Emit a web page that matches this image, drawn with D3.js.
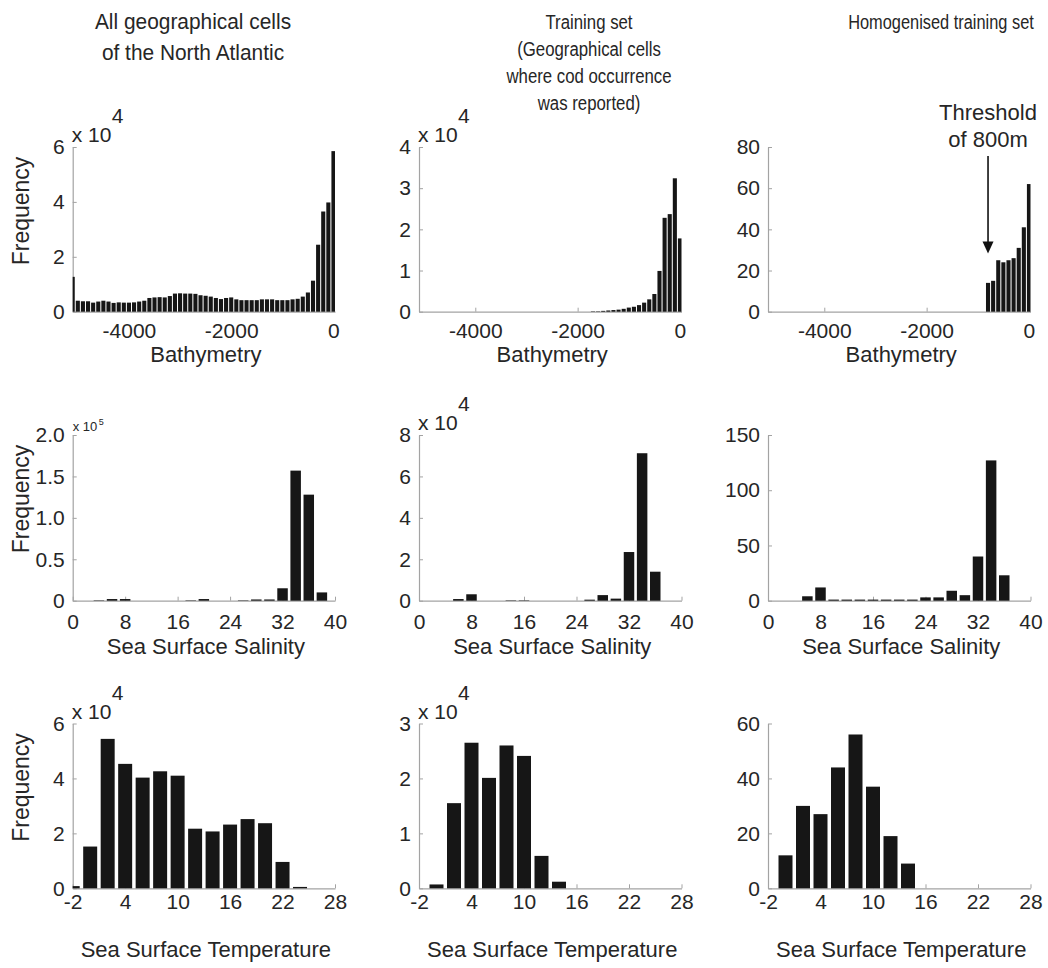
<!DOCTYPE html>
<html>
<head>
<meta charset="utf-8">
<script src="https://cdn.jsdelivr.net/npm/d3@7"></script>
<style>
  html, body { margin: 0; background: #fff; }
  svg { display: block; font-family: "Liberation Sans", Arial, Helvetica, sans-serif; }
</style>
</head>
<body>
<svg id="fig" width="1048" height="968"></svg>
<script>
// ---- bin centres -------------------------------------------------------
const depthBins = [-5100, -5000, -4900, -4800, -4700, -4600, -4500, -4400, -4300, -4200,
  -4100, -4000, -3900, -3800, -3700, -3600, -3500, -3400, -3300, -3200,
  -3100, -3000, -2900, -2800, -2700, -2600, -2500, -2400, -2300, -2200,
  -2100, -2000, -1900, -1800, -1700, -1600, -1500, -1400, -1300, -1200,
  -1100, -1000, -900, -800, -700, -600, -500, -400, -300, -200, -100, 0];
const salinityBins = [0, 2, 4, 6, 8, 10, 12, 14, 16, 18, 20, 22, 24, 26, 28, 30, 32, 34, 36, 38, 40];
const temperatureBins = [-2, 0, 2, 4, 6, 8, 10, 12, 14, 16, 18, 20, 22, 24, 26, 28];

// ---- frequencies: all cells of the North Atlantic ----------------------
const depthAll = [12700, 4000, 3800, 3800, 3300, 3700, 4000, 3700, 3200, 3400,
  3300, 3300, 3400, 3700, 4000, 5000, 5200, 5300, 5200, 5700,
  6600, 6700, 6600, 6600, 6500, 6000, 5800, 5500, 5000, 4600,
  5000, 5200, 4500, 4200, 4200, 4200, 4200, 4500, 4500, 4500,
  4200, 4200, 4200, 4500, 4700, 5500, 7000, 11300, 24400, 36500, 39800, 58500];
const salinityAll = [0, 0, 500, 2000, 2000, 0, 0, 0, 0, 500, 2000, 0, 0, 500, 1500, 1500,
  15000, 157000, 128000, 10000, 0];
const temperatureAll = [800, 15200, 54400, 45300, 40300, 42600, 41000, 21700, 20700, 23200,
  25200, 23700, 9600, 500, 0, 0];

// ---- frequencies: training set (cod occurrence reported) ---------------
const depthTrain = [0, 0, 0, 0, 0, 0, 0, 0, 0, 0,
  0, 0, 0, 0, 0, 0, 0, 0, 0, 0,
  0, 0, 0, 0, 0, 0, 0, 0, 0, 0,
  0, 0, 0, 0, 100, 100, 200, 300, 400, 500,
  700, 1000, 1200, 1600, 2200, 3000, 4300, 9900, 22800, 23700, 32400, 17800];
const salinityTrain = [0, 0, 0, 800, 3100, 0, 0, 200, 200, 0, 0, 0, 0, 500, 2700, 1000,
  23500, 71200, 14000, 0, 0];
const temperatureTrain = [0, 700, 15500, 26500, 20100, 26000, 24100, 5900, 1200, 0,
  0, 0, 0, 0, 0, 0];

// ---- frequencies: homogenised training set -----------------------------
const depthHomog = [0, 0, 0, 0, 0, 0, 0, 0, 0, 0,
  0, 0, 0, 0, 0, 0, 0, 0, 0, 0,
  0, 0, 0, 0, 0, 0, 0, 0, 0, 0,
  0, 0, 0, 0, 0, 0, 0, 0, 0, 0,
  0, 0, 0, 14, 15, 25, 24, 25, 26, 31, 41, 62];
const salinityHomog = [0, 0, 0, 4, 12, 1, 1, 1, 1, 1, 1, 1, 3, 3, 9, 5, 40, 127, 23, 0, 0];
const temperatureHomog = [0, 12, 30, 27, 44, 56, 37, 19, 9, 0, 0, 0, 0, 0, 0, 0];

// ---- axis ticks ---------------------------------------------------------
const depthTicks = [-4000, -2000, 0];
const salinityTicks = [0, 8, 16, 24, 32, 40];
const temperatureTicks = [-2, 4, 10, 16, 22, 28];

// ---- text ---------------------------------------------------------------
const columnTitles = [
  ["All geographical cells", "of the North Atlantic"],
  ["Training set", "(Geographical cells", "where cod occurrence", "was reported)"],
  ["Homogenised training set"]
];
const rowLabels = ["Bathymetry", "Sea Surface Salinity", "Sea Surface Temperature"];

// ---- layout ---------------------------------------------------------------
const colX = [[72.7, 335], [419, 681.5], [768, 1030.5]];
const rowY = [[147, 311.7], [435, 600.7], [723.5, 888.3]];
const titleStyle = [
  { x: 193, size: 22, sx: 0.95, lead: 31 },
  { x: 589, size: 21, sx: 0.8, lead: 27 },
  { x: 941, size: 21, sx: 0.78, lead: 27 }
];

const rows = [
  { bins: depthBins, binW: 100, domain: [-5100, 30], ticks: depthTicks, labelPad: 11.5, titleBase: 362,
    series: [depthAll, depthTrain, depthHomog],
    yTop: [60000, 40000, 80], scale: [1e4, 1e4, 1],
    yTicks: [[0, 2, 4, 6], [0, 1, 2, 3, 4], [0, 20, 40, 60, 80]], fmt: [d3.format("d"), d3.format("d"), d3.format("d")] },
  { bins: salinityBins, binW: 2, domain: [0, 40], ticks: salinityTicks, labelPad: 13, titleBase: 654,
    series: [salinityAll, salinityTrain, salinityHomog],
    yTop: [200000, 80000, 150], scale: [1e5, 1e4, 1],
    yTicks: [[0, 0.5, 1, 1.5, 2], [0, 2, 4, 6, 8], [0, 50, 100, 150]],
    fmt: [v => v === 0 ? "0" : d3.format(".1f")(v), d3.format("d"), d3.format("d")] },
  { bins: temperatureBins, binW: 2, domain: [-2, 28], ticks: temperatureTicks, labelPad: 6, titleBase: 957,
    series: [temperatureAll, temperatureTrain, temperatureHomog],
    yTop: [60000, 30000, 60], scale: [1e4, 1e4, 1],
    yTicks: [[0, 2, 4, 6], [0, 1, 2, 3], [0, 20, 40, 60]], fmt: [d3.format("d"), d3.format("d"), d3.format("d")] }
];

const BAR = "#161616", AXIS = "#a3a3a3", TEXT = "#262626";
const svg = d3.select("#fig");
svg.append("rect").attr("width", 1048).attr("height", 968).attr("fill", "#fff");

// column headings
columnTitles.forEach((lines, c) => {
  const st = titleStyle[c];
  lines.forEach((t, i) => {
    svg.append("g").attr("transform", `translate(${st.x},${29 + i * st.lead})`)
      .append("text").attr("transform", `scale(${st.sx},1)`)
      .attr("text-anchor", "middle").attr("font-size", st.size).attr("fill", TEXT).text(t);
  });
});

rows.forEach((row, r) => {
  const [y0, y1] = [rowY[r][1], rowY[r][0]];
  row.series.forEach((vals, c) => {
    const [xa, xb] = colX[c];
    const x = d3.scaleLinear().domain(row.domain).range([xa, xb]);
    const yTopScaled = row.yTop[c] / row.scale[c];
    const y = d3.scaleLinear().domain([0, yTopScaled]).range([y0, y1]);
    const g = svg.append("g");

    const clipId = `clip-${r}-${c}`;
    svg.append("clipPath").attr("id", clipId).append("rect")
      .attr("x", xa).attr("y", y1 - 2).attr("width", xb - xa).attr("height", y0 - y1 + 4);

    // axes
    const xAxis = d3.axisBottom(x).tickValues(row.ticks).tickSizeInner(-4).tickSizeOuter(0)
      .tickPadding(row.labelPad).tickFormat(d3.format("d"));
    const gx = g.append("g").attr("transform", `translate(0,${y0})`).call(xAxis);
    const yAxis = d3.axisLeft(y).tickValues(row.yTicks[c]).tickSizeInner(-4).tickSizeOuter(0)
      .tickPadding(8).tickFormat(row.fmt[c]);
    const gy = g.append("g").attr("transform", `translate(${xa},0)`).call(yAxis);
    [gx, gy].forEach(a => {
      a.select(".domain").attr("stroke", AXIS).attr("stroke-width", 1.2);
      a.selectAll(".tick line").attr("stroke", AXIS);
      a.selectAll(".tick text").attr("font-size", 21).attr("fill", TEXT)
        .attr("font-family", "Liberation Sans, Arial, sans-serif");
    });
    gx.selectAll(".tick text").text(d => d < 0 ? "-" + Math.abs(d) : d);

    // bars (80% of bin width, clipped to the axes box)
    g.append("g").attr("clip-path", `url(#${clipId})`)
      .selectAll("rect").data(row.bins.map((b, i) => ({ b, v: vals[i] / row.scale[c] })))
      .join("rect")
      .attr("x", d => x(d.b - row.binW * 0.4))
      .attr("width", d => x(d.b + row.binW * 0.4) - x(d.b - row.binW * 0.4))
      .attr("y", d => y(d.v))
      .attr("height", d => y0 - y(d.v))
      .attr("fill", BAR);

    // axis title under each panel
    svg.append("text").attr("x", (xa + xb) / 2 + 2).attr("y", row.titleBase)
      .attr("text-anchor", "middle").attr("font-size", 22).attr("fill", TEXT).text(rowLabels[r]);

    // exponent multiplier above the y axis
    if (row.scale[c] !== 1) {
      const p = Math.round(Math.log10(row.scale[c]));
      if (r === 1 && c === 0) {
        svg.append("text").attr("x", xa).attr("y", y1 - 4.5).attr("font-size", 13).attr("fill", TEXT).text("x 10");
        svg.append("text").attr("x", xa + 26).attr("y", y1 - 10).attr("font-size", 9).attr("fill", TEXT).text(p);
      } else {
        svg.append("text").attr("x", xa - 1).attr("y", y1 - 5).attr("font-size", 21).attr("fill", TEXT).text("x 10");
        svg.append("text").attr("x", xa + 39).attr("y", y1 - 24).attr("font-size", 21).attr("fill", TEXT).text(p);
      }
    }

    // y-axis label on the first column
    if (c === 0) {
      svg.append("text").attr("transform", `translate(29,${y1 + 64}) rotate(-90)`)
        .attr("text-anchor", "middle").attr("font-size", 23).attr("fill", TEXT).text("Frequency");
    }

    // depth threshold annotation in the homogenised set
    if (r === 0 && c === 2) {
      const ax = x(-800);
      svg.append("text").attr("x", ax).attr("y", 120).attr("text-anchor", "middle")
        .attr("font-size", 22).attr("fill", TEXT).text("Threshold");
      svg.append("text").attr("x", ax).attr("y", 147).attr("text-anchor", "middle")
        .attr("font-size", 22).attr("fill", TEXT).text("of 800m");
      svg.append("line").attr("x1", ax).attr("x2", ax).attr("y1", 156).attr("y2", 243)
        .attr("stroke", "#111").attr("stroke-width", 1.6);
      svg.append("path").attr("d", `M${ax - 5.5},241.5 L${ax + 5.5},241.5 L${ax},253.5 Z`).attr("fill", "#111");
    }
  });
});
</script>
</body>
</html>
